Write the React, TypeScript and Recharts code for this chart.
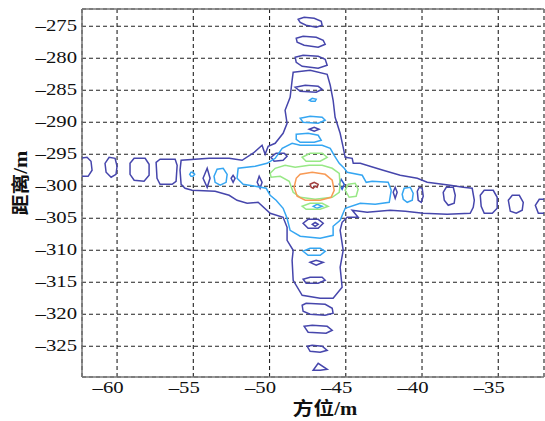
import React from "react"
import {
  ScatterChart,
  Scatter,
  XAxis,
  YAxis,
  CartesianGrid,
  ReferenceLine,
  Label,
} from "recharts"

// axis setup (azimuth / range in metres)
const xDomain = [-62.3, -32.0]
const yDomain = [-329.8, -272.3]
const xTicks = [-60, -55, -50, -45, -40, -35]
const yTicks = [-325, -320, -315, -310, -305, -300, -295, -290, -285, -280, -275]

type Pt = [number, number]

// level 1 (outermost) – the big cross
const outerCross: Pt[] = [
  [-48.45, -282.19], [-47.34, -281.88], [-46.22, -282.5], [-46.02, -284.22], [-45.83, -286.56],
  [-45.7, -289.22], [-45.37, -291.72], [-45.17, -293.91], [-45.04, -295.47], [-44.58, -295.63],
  [-44.51, -296.41], [-44.05, -296.41], [-43.2, -297.03], [-42.55, -297.5], [-41.43, -298.28],
  [-40.31, -298.75], [-39.66, -299.38], [-38.15, -299.84], [-37.3, -300.16], [-36.71, -300.31],
  [-36.57, -302.19], [-36.64, -303.28], [-36.84, -304.22], [-38.35, -304.38], [-39.92, -304.22],
  [-41.1, -303.91], [-42.09, -303.75], [-43.6, -304.06], [-44.58, -303.75], [-44.19, -304.84],
  [-44.91, -304.84], [-45.24, -305.63], [-45.37, -306.88], [-45.17, -310.0], [-45.37, -312.66],
  [-45.24, -315.78], [-45.83, -317.5], [-46.68, -317.5], [-47.86, -317.03], [-48.45, -314.69],
  [-48.52, -311.56], [-48.45, -310.0], [-48.85, -308.44], [-48.85, -306.41], [-49.11, -304.84],
  [-49.96, -304.22], [-50.75, -302.5], [-51.47, -302.66], [-52.13, -302.19], [-52.65, -301.41],
  [-53.57, -300.78], [-55.08, -300.63], [-55.54, -300.31], [-55.8, -299.69], [-55.87, -297.5],
  [-55.8, -295.94], [-53.96, -295.63], [-52.65, -295.63], [-51.8, -295.94], [-51.08, -294.84],
  [-50.49, -293.59], [-50.29, -295.0], [-50.09, -293.75], [-49.63, -293.28], [-49.11, -291.72],
  [-48.85, -290.16], [-48.98, -288.13], [-48.65, -286.09], [-48.52, -283.44],
]

// level 1 islands along the range axis
const top1: Pt[] = [[-48.12, -273.91], [-47.73, -273.59], [-47.07, -273.75], [-46.61, -274.22], [-46.55, -274.84], [-46.94, -275.16], [-47.6, -274.84], [-47.99, -274.38]]
const top2: Pt[] = [[-48.25, -276.88], [-47.8, -276.56], [-46.94, -276.72], [-46.48, -277.19], [-46.35, -277.81], [-46.81, -278.28], [-47.73, -277.97], [-48.19, -277.5]]
const top3: Pt[] = [[-48.32, -279.84], [-47.8, -279.53], [-46.81, -279.69], [-46.35, -280.16], [-46.22, -281.09], [-46.81, -281.56], [-47.86, -281.25], [-48.25, -280.63]]
const top4: Pt[] = [[-48.32, -284.53], [-47.66, -284.22], [-46.81, -284.38], [-46.55, -284.84], [-46.94, -285.31], [-47.99, -285.16]]
const midDiamond: Pt[] = [[-47.4, -291.09], [-47.07, -290.78], [-46.75, -291.09], [-47.07, -291.41]]
const leftBlob: Pt[] = [[-49.9, -295.47], [-49.57, -294.84], [-49.04, -294.84], [-48.85, -295.31], [-49.11, -295.94], [-49.7, -296.09]]
const rightDiamond: Pt[] = [[-45.43, -299.69], [-45.3, -298.91], [-45.1, -299.69], [-45.24, -300.47]]
const leftDiamond: Pt[] = [[-50.81, -299.38], [-50.68, -298.44], [-50.49, -299.38], [-50.62, -300.31]]
const lowEll: Pt[] = [[-47.8, -305.78], [-47.47, -305.16], [-46.81, -305.16], [-46.48, -305.78], [-46.81, -306.56], [-47.47, -306.56]]
const lowEllCore: Pt[] = [[-47.2, -305.94], [-47.01, -305.63], [-46.81, -305.94], [-47.01, -306.25]]
const low6: Pt[] = [[-47.34, -311.88], [-46.94, -311.56], [-46.48, -311.88], [-46.94, -312.34]]
const low5: Pt[] = [[-47.8, -314.53], [-47.34, -314.22], [-46.55, -314.22], [-46.35, -314.69], [-46.81, -315.16], [-47.6, -315.16]]
const low1: Pt[] = [[-47.86, -318.59], [-47.6, -318.28], [-46.35, -318.44], [-45.89, -319.06], [-45.83, -319.84], [-46.35, -320.16], [-47.34, -320.0], [-47.8, -319.53]]
const low2: Pt[] = [[-47.73, -321.88], [-47.2, -321.72], [-46.22, -321.88], [-45.89, -322.5], [-46.29, -322.97], [-47.47, -322.81]]
const low3: Pt[] = [[-47.53, -325.0], [-47.2, -324.84], [-46.55, -325.0], [-46.22, -325.63], [-46.68, -325.94], [-47.34, -325.78]]
const low4: Pt[] = [[-47.14, -328.75], [-46.81, -327.66], [-46.22, -328.59], [-46.68, -328.75]]

// level 1 islands along the azimuth axis
const left1: Pt[] = [[-62.43, -295.63], [-61.97, -295.47], [-61.71, -296.09], [-61.64, -297.5], [-61.9, -298.44], [-62.43, -298.44]]
const left2: Pt[] = [[-60.79, -296.41], [-60.52, -295.47], [-60.13, -295.63], [-60.0, -296.88], [-60.07, -298.13], [-60.39, -298.59], [-60.72, -297.81]]
const left3: Pt[] = [[-59.15, -296.41], [-58.88, -295.63], [-58.16, -295.63], [-57.9, -296.56], [-57.9, -298.28], [-58.23, -299.22], [-58.88, -299.06], [-59.15, -298.13]]
const left4: Pt[] = [[-57.44, -296.25], [-57.18, -295.78], [-56.19, -295.78], [-56.06, -296.72], [-56.13, -299.22], [-56.39, -299.69], [-57.18, -299.69], [-57.38, -298.75]]
const left6: Pt[] = [[-54.36, -298.75], [-54.09, -297.19], [-53.9, -298.75], [-54.09, -300.16]]
const left8: Pt[] = [[-52.52, -298.75], [-52.39, -298.28], [-52.26, -298.75], [-52.39, -299.38]]
const right1: Pt[] = [[-36.18, -301.41], [-35.92, -300.63], [-35.33, -300.63], [-35.07, -301.72], [-35.07, -303.44], [-35.39, -304.22], [-35.92, -304.22], [-36.12, -303.13]]
const right2: Pt[] = [[-34.34, -302.19], [-34.08, -301.41], [-33.62, -301.41], [-33.36, -302.5], [-33.43, -303.75], [-33.82, -304.22], [-34.21, -303.91]]
const right3: Pt[] = [[-32.57, -302.97], [-32.31, -302.03], [-31.72, -302.03], [-31.59, -303.13], [-31.78, -304.22], [-32.37, -304.22]]
const right4: Pt[] = [[-38.61, -300.94], [-38.41, -300.16], [-37.95, -300.16], [-37.82, -301.41], [-37.89, -302.66], [-38.28, -302.97], [-38.54, -302.19]]
const right5: Pt[] = [[-40.31, -300.78], [-40.18, -300.16], [-39.99, -300.31], [-39.92, -301.56], [-40.05, -302.5], [-40.25, -302.19]]
const right7: Pt[] = [[-41.89, -300.94], [-41.76, -300.16], [-41.63, -300.94], [-41.76, -301.88]]

// level 2
const lightMain: Pt[] = [
  [-52.06, -297.19], [-52.13, -298.75], [-51.73, -299.69], [-50.94, -300.0], [-50.22, -300.31],
  [-49.96, -301.41], [-49.57, -302.19], [-49.11, -303.44], [-48.85, -305.0], [-48.65, -306.88],
  [-47.99, -307.81], [-46.68, -308.13], [-45.83, -307.66], [-45.83, -306.25], [-45.37, -305.31],
  [-45.04, -303.44], [-44.05, -302.66], [-43.07, -302.81], [-42.15, -302.5], [-42.02, -300.63],
  [-42.22, -299.38], [-43.27, -299.22], [-43.66, -299.38], [-43.92, -298.28], [-44.91, -297.81],
  [-45.1, -297.19], [-45.43, -296.41], [-45.76, -295.16], [-46.02, -294.06], [-46.55, -293.59],
  [-47.99, -293.59], [-48.52, -293.28], [-49.17, -294.06], [-49.63, -295.63], [-50.16, -296.41],
  [-50.94, -296.88],
]
const lightTop: Pt[] = [[-47.99, -289.38], [-47.34, -289.06], [-46.55, -289.22], [-46.35, -289.69], [-46.81, -290.16], [-47.8, -290.0]]
const lightDash: Pt[] = [[-47.4, -286.56], [-47.2, -286.25], [-46.94, -286.41], [-47.01, -286.72], [-47.27, -286.72]]
const lightUpper: Pt[] = [[-48.25, -291.88], [-47.47, -291.72], [-46.81, -292.03], [-46.61, -292.81], [-47.07, -293.13], [-47.99, -293.13], [-48.25, -292.66]]
const lightTiny: Pt[] = [[-47.14, -303.13], [-46.88, -302.81], [-46.55, -303.13], [-46.88, -303.44]]
const lightLow: Pt[] = [[-47.8, -310.16], [-47.34, -309.69], [-46.68, -309.69], [-46.35, -310.16], [-46.68, -310.78], [-47.47, -310.78]]
const lightLeft5: Pt[] = [[-55.24, -298.13], [-55.15, -297.81], [-55.02, -297.81], [-54.91, -298.13], [-55.02, -298.44], [-55.15, -298.44]]
const lightLeft7: Pt[] = [[-53.64, -298.44], [-53.44, -297.34], [-53.04, -297.19], [-52.78, -298.13], [-52.85, -299.38], [-53.24, -299.84], [-53.57, -299.38]]
const lightRight6: Pt[] = [[-41.3, -301.25], [-41.17, -300.31], [-40.77, -300.16], [-40.58, -301.09], [-40.64, -302.19], [-40.97, -302.5], [-41.23, -302.03]]

// level 3
const greenMain: Pt[] = [
  [-49.96, -297.97], [-49.63, -297.19], [-48.98, -296.72], [-48.32, -297.03], [-47.4, -296.72],
  [-46.55, -296.72], [-45.89, -297.19], [-45.43, -297.97], [-45.37, -299.84], [-45.43, -300.94],
  [-45.89, -301.72], [-47.01, -302.03], [-47.99, -301.72], [-48.45, -300.94], [-48.71, -299.22],
  [-49.3, -298.44], [-49.9, -298.59],
]
const greenTop: Pt[] = [[-47.86, -295.47], [-47.34, -294.84], [-46.55, -294.84], [-46.22, -295.47], [-46.68, -296.09], [-47.6, -296.09]]
const greenRight: Pt[] = [[-45.04, -300.63], [-44.84, -299.69], [-44.38, -299.53], [-44.19, -300.47], [-44.32, -301.56], [-44.78, -301.72]]
const greenBottom: Pt[] = [[-47.86, -303.13], [-47.34, -302.66], [-46.55, -302.66], [-46.16, -303.13], [-46.68, -303.59], [-47.6, -303.59]]

// level 4 and 5 (peak)
const orangeRing: Pt[] = [
  [-48.25, -298.75], [-47.99, -298.13], [-47.2, -297.81], [-46.35, -298.13], [-45.89, -299.06],
  [-45.76, -300.63], [-45.96, -301.72], [-46.68, -302.19], [-47.66, -302.19], [-48.19, -301.56],
  [-48.39, -300.16],
]
const peak: Pt[] = [[-47.34, -299.69], [-47.07, -299.38], [-46.81, -299.69], [-46.88, -300.16], [-47.01, -300.0], [-47.14, -300.31], [-47.27, -300.16]]

const levelColors = ["#4646ac", "#35a6f2", "#98e886", "#f89a55", "#a03c3c", "#2a5cd0"]

const contours: { pts: Pt[]; level: number }[] = [
  { pts: outerCross, level: 0 },
  ...[top1, top2, top3, top4, midDiamond, leftBlob, leftDiamond, lowEll, lowEllCore, low6, low5, low1, low2, low3, low4,
    left1, left2, left3, left4, left6, left8, right1, right2, right3, right4, right5, right7].map((pts) => ({ pts, level: 0 })),
  { pts: rightDiamond, level: 5 },
  ...[lightMain, lightTop, lightDash, lightUpper, lightTiny, lightLow, lightLeft5, lightLeft7, lightRight6].map((pts) => ({ pts, level: 1 })),
  ...[greenMain, greenTop, greenRight, greenBottom].map((pts) => ({ pts, level: 2 })),
  { pts: orangeRing, level: 3 },
  { pts: peak, level: 4 },
]

const NoDot = () => <g />

const SERIF = "Times New Roman, Liberation Serif, serif"
const CJK = "Noto Sans CJK SC"

function XTick({ x, y, payload }: any) {
  return (
    <g transform={`translate(${x - 9},${y + 16}) scale(1.22,1)`}>
      <text x={0} y={0} textAnchor="middle" fontFamily={SERIF} fontSize={17} fill="#111">
        {"–" + Math.abs(payload.value)}
      </text>
    </g>
  )
}

function YTick({ x, y, payload }: any) {
  return (
    <g transform={`translate(${x - 5},${y + 5}) scale(1.22,1)`}>
      <text x={0} y={0} textAnchor="end" fontFamily={SERIF} fontSize={17} fill="#111">
        {"–" + Math.abs(payload.value)}
      </text>
    </g>
  )
}

function XTitle() {
  return (
    <g transform="translate(325,415) scale(1.15,1)">
      <text x={0} y={0} textAnchor="middle" fontSize={18} fontWeight="bold" fill="#111">
        <tspan fontFamily={CJK}>方位</tspan>
        <tspan fontFamily={SERIF}>/m</tspan>
      </text>
    </g>
  )
}

function YTitle() {
  return (
    <g transform="translate(27,183) rotate(-90) scale(1.15,1)">
      <text x={0} y={0} textAnchor="middle" fontSize={18} fontWeight="bold" fill="#111">
        <tspan fontFamily={CJK}>距离</tspan>
        <tspan fontFamily={SERIF}>/m</tspan>
      </text>
    </g>
  )
}

export default function App() {
  return (
    <div style={{ position: "absolute", left: 0, top: 0, background: "#fff" }}>
      <ScatterChart width={545} height={421} margin={{ top: 9, right: 1, bottom: 0, left: 0 }}>
        <CartesianGrid strokeDasharray="4 3" stroke="#222" strokeWidth={1.1} />
        <XAxis
          type="number"
          dataKey="x"
          domain={xDomain}
          allowDataOverflow
          ticks={xTicks}
          height={44}
          tickSize={0}
          tickMargin={0}
          tickLine={false}
          axisLine={{ stroke: "#777", strokeWidth: 1.5 }}
          tick={<XTick />}
        >
          <Label content={<XTitle />} />
        </XAxis>
        <YAxis
          type="number"
          dataKey="y"
          domain={yDomain}
          allowDataOverflow
          ticks={yTicks}
          width={82}
          tickSize={0}
          tickMargin={0}
          tickLine={false}
          axisLine={{ stroke: "#777", strokeWidth: 1.5 }}
          tick={<YTick />}
        >
          <Label content={<YTitle />} />
        </YAxis>
        <ReferenceLine y={yDomain[1]} stroke="#777" strokeWidth={1.5} />
        {contours.map((c, i) => (
          <Scatter
            key={i}
            data={c.pts.map(([x, y]) => ({ x, y }))}
            line={{ stroke: levelColors[c.level], strokeWidth: 1.5 }}
            lineJointType="linearClosed"
            shape={NoDot}
            isAnimationActive={false}
          />
        ))}
      </ScatterChart>
    </div>
  )
}
